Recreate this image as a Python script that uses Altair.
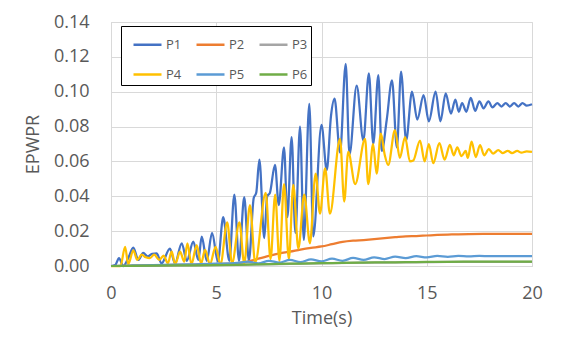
import altair as alt
import pandas as pd

series_names = ["P1", "P2", "P3", "P4", "P5", "P6"]
series_colors = ["#4472C4", "#ED7D31", "#A5A5A5", "#FFC000", "#5B9BD5", "#70AD47"]

p1_t = [0.0, 0.2, 0.38, 0.58, 0.8, 1.06, 1.3, 1.53, 1.75, 1.95, 2.17, 2.4, 2.8, 3.04, 3.36, 3.6,
        3.91, 4.15, 4.31, 4.55, 4.8, 5.08, 5.33, 5.62, 5.86, 6.08, 6.33, 6.55, 6.78, 6.9, 7.05,
        7.28, 7.42, 7.55, 7.79, 7.97, 8.22, 8.38, 8.58, 8.76, 8.98, 9.16, 9.42, 9.61, 10.0, 10.25,
        10.45, 10.62, 10.88, 11.15, 11.33, 11.67, 11.99, 12.25, 12.46, 12.7, 12.86, 13.1, 13.35,
        13.58, 13.78, 14.02, 14.3, 14.55, 14.85, 15.1, 15.42, 15.65, 15.9, 16.15, 16.36, 16.52,
        16.68, 16.88, 17.09, 17.3, 17.5, 17.7, 17.93, 18.12, 18.35, 18.55, 18.75, 18.95, 19.15,
        19.35, 19.55, 19.75, 20.0]
p1_v = [0.0, 0.0005, 0.0045, 0.0, 0.004, 0.0105, 0.0035, 0.0075, 0.0055, 0.007, 0.0072, 0.0015,
        0.01, 0.0015, 0.013, 0.003, 0.014, 0.0035, 0.0168, 0.003, 0.019, 0.0025, 0.028, 0.003,
        0.041, 0.003, 0.0395, 0.003, 0.039, 0.042, 0.061, 0.016, 0.04, 0.042, 0.058, 0.035, 0.068,
        0.028, 0.074, 0.019, 0.08, 0.015, 0.093, 0.017, 0.081, 0.055, 0.086, 0.096, 0.065, 0.116,
        0.064, 0.1035, 0.072, 0.1105, 0.07, 0.1095, 0.066, 0.084, 0.1065, 0.068, 0.1115, 0.072,
        0.1, 0.084, 0.098, 0.083, 0.1, 0.083, 0.099, 0.0875, 0.0955, 0.0885, 0.0935, 0.0885,
        0.0965, 0.089, 0.0945, 0.0905, 0.0945, 0.091, 0.0935, 0.0915, 0.0935, 0.0915, 0.0935,
        0.0915, 0.0935, 0.092, 0.0928]

p2_t = [0, 1, 2, 3, 4, 5, 6, 6.5, 7, 7.5, 8, 8.5, 9, 9.5, 10, 10.5, 11, 11.5, 12, 12.5, 13, 13.5,
        14, 14.5, 15, 15.5, 16, 16.5, 17, 18, 19, 20]
p2_v = [0.0, 0.0002, 0.0004, 0.0006, 0.0008, 0.0011, 0.0016, 0.0025, 0.0042, 0.0058, 0.0072,
        0.0082, 0.0094, 0.0104, 0.0112, 0.0125, 0.0138, 0.0145, 0.0149, 0.0154, 0.016, 0.0165,
        0.017, 0.0172, 0.0175, 0.0178, 0.018, 0.0182, 0.0183, 0.0184, 0.0184, 0.0184]

p3_t = [0, 4, 8, 12, 16, 20]
p3_v = [0.0, 0.0003, 0.0011, 0.0019, 0.0023, 0.0024]

p4_t = [0.0, 0.45, 0.67, 0.82, 1.06, 1.25, 1.46, 1.65, 1.85, 2.05, 2.3, 2.5, 2.7, 2.88, 3.05, 3.28,
        3.48, 3.63, 3.82, 4.07, 4.28, 4.47, 4.7, 4.97, 5.2, 5.52, 5.75, 6.1, 6.33, 6.6, 6.85, 7.35,
        7.58, 7.8, 8.0, 8.22, 8.45, 8.66, 8.9, 9.18, 9.45, 9.72, 9.93, 10.17, 10.4, 10.88, 11.08,
        11.27, 11.6, 12.07, 12.22, 12.45, 12.62, 12.82, 13.0, 13.17, 13.49, 13.72, 13.97, 14.2,
        14.36, 14.68, 14.9, 15.1, 15.31, 15.6, 15.85, 16.1, 16.28, 16.45, 16.65, 16.85, 16.95,
        17.13, 17.33, 17.53, 17.73, 17.95, 18.15, 18.4, 18.6, 18.85, 19.05, 19.3, 19.5, 19.75, 20.0]
p4_v = [0.0, 0.0, 0.011, 0.001, 0.009, 0.0035, 0.0065, 0.005, 0.0045, 0.0065, 0.0035, 0.006,
        0.0015, 0.0082, 0.001, 0.0082, 0.0025, 0.013, 0.001, 0.012, 0.0015, 0.0092, 0.001, 0.011,
        0.001, 0.025, 0.0015, 0.025, 0.0015, 0.035, 0.002, 0.042, 0.004, 0.041, 0.003, 0.047,
        0.004, 0.0465, 0.01, 0.041, 0.013, 0.053, 0.03, 0.056, 0.03, 0.073, 0.037, 0.0655, 0.047,
        0.073, 0.047, 0.07, 0.053, 0.076, 0.064, 0.058, 0.078, 0.062, 0.074, 0.06, 0.0605, 0.072,
        0.06, 0.07, 0.059, 0.0705, 0.061, 0.0695, 0.0635, 0.068, 0.063, 0.066, 0.062, 0.0713,
        0.0625, 0.0694, 0.0635, 0.067, 0.0645, 0.0665, 0.0648, 0.066, 0.0648, 0.066, 0.065,
        0.0658, 0.0655]

p5_t = [0, 1, 2, 3, 4, 5, 6, 6.5, 7, 7.5, 8, 8.5, 9, 9.5, 10, 10.5, 11, 11.5, 12, 12.5, 13, 13.5,
        14, 14.5, 15, 15.5, 16, 16.5, 17, 17.5, 18, 19, 20]
p5_v = [0.0, 0.0003, 0.0005, 0.0008, 0.001, 0.0013, 0.0018, 0.0025, 0.0015, 0.003, 0.002, 0.0035,
        0.0022, 0.0038, 0.0027, 0.0042, 0.003, 0.0046, 0.0035, 0.005, 0.004, 0.0054, 0.0045,
        0.0056, 0.005, 0.0058, 0.0053, 0.0058, 0.0055, 0.0058, 0.0056, 0.0057, 0.0057]

p6_t = [0, 2, 4, 6, 7, 8, 9, 10, 11, 12, 13, 14, 15, 16, 18, 20]
p6_v = [0.0, 0.0002, 0.0004, 0.0007, 0.001, 0.0012, 0.0014, 0.0016, 0.0018, 0.002, 0.0021,
        0.0022, 0.0023, 0.0024, 0.0025, 0.0025]

x_ticks = [0, 5, 10, 15, 20]
y_ticks = [0.0, 0.02, 0.04, 0.06, 0.08, 0.10, 0.12, 0.14]

all_t = [p1_t, p2_t, p3_t, p4_t, p5_t, p6_t]
all_v = [p1_v, p2_v, p3_v, p4_v, p5_v, p6_v]
rows = []
for name, ts, vs in zip(series_names, all_t, all_v):
    for i, (t, v) in enumerate(zip(ts, vs)):
        rows.append({"series": name, "t": t, "v": v, "order": i})
df = pd.DataFrame(rows)

FONT = "Open Sans"
TXT = "#595959"
GRID = "#D9D9D9"

chart = alt.Chart(df).mark_line(strokeWidth=2.25, interpolate="monotone").encode(
    x=alt.X("t:Q", scale=alt.Scale(domain=[0, 20], nice=False),
            axis=alt.Axis(values=x_ticks, title="Time(s)", grid=True, gridColor=GRID,
                          domainColor=GRID, ticks=False, labelFont=FONT, labelFontSize=18,
                          labelColor=TXT, labelPadding=18, labelFlush=False,
                          titleFont=FONT, titleFontSize=18, titleFontWeight="normal",
                          titleColor=TXT, titlePadding=7)),
    y=alt.Y("v:Q", scale=alt.Scale(domain=[0, 0.14], nice=False),
            axis=alt.Axis(values=y_ticks, format=".2f", title="EPWPR", grid=True,
                          gridColor=GRID, domainColor=GRID, ticks=False, labelFont=FONT,
                          labelFontSize=18, labelColor=TXT, labelPadding=22,
                          titleFont=FONT, titleFontSize=18, titleFontWeight="normal",
                          titleColor=TXT, titlePadding=11)),
    color=alt.Color("series:N", scale=alt.Scale(domain=series_names, range=series_colors),
                    legend=alt.Legend(orient="none", legendX=10, legendY=4, columns=3,
                                      direction="horizontal",
                                      title=None, symbolType="stroke", symbolSize=784,
                                      symbolStrokeWidth=2.5, labelFont=FONT, labelFontSize=13,
                                      labelColor=TXT, labelOffset=3, strokeColor="#000000",
                                      fillColor="white", padding=3, symbolOffset=8,
                                      columnPadding=5, rowPadding=7)),
    order="order:Q",
).properties(
    width=421, height=244,
    padding={"left": 111, "top": 22, "right": 35, "bottom": 71},
    autosize=alt.AutoSizeParams(type="none"),
).configure_view(stroke=None).configure(background="white")

chart.save("out.html", embed_options={"renderer": "svg", "actions": False})
